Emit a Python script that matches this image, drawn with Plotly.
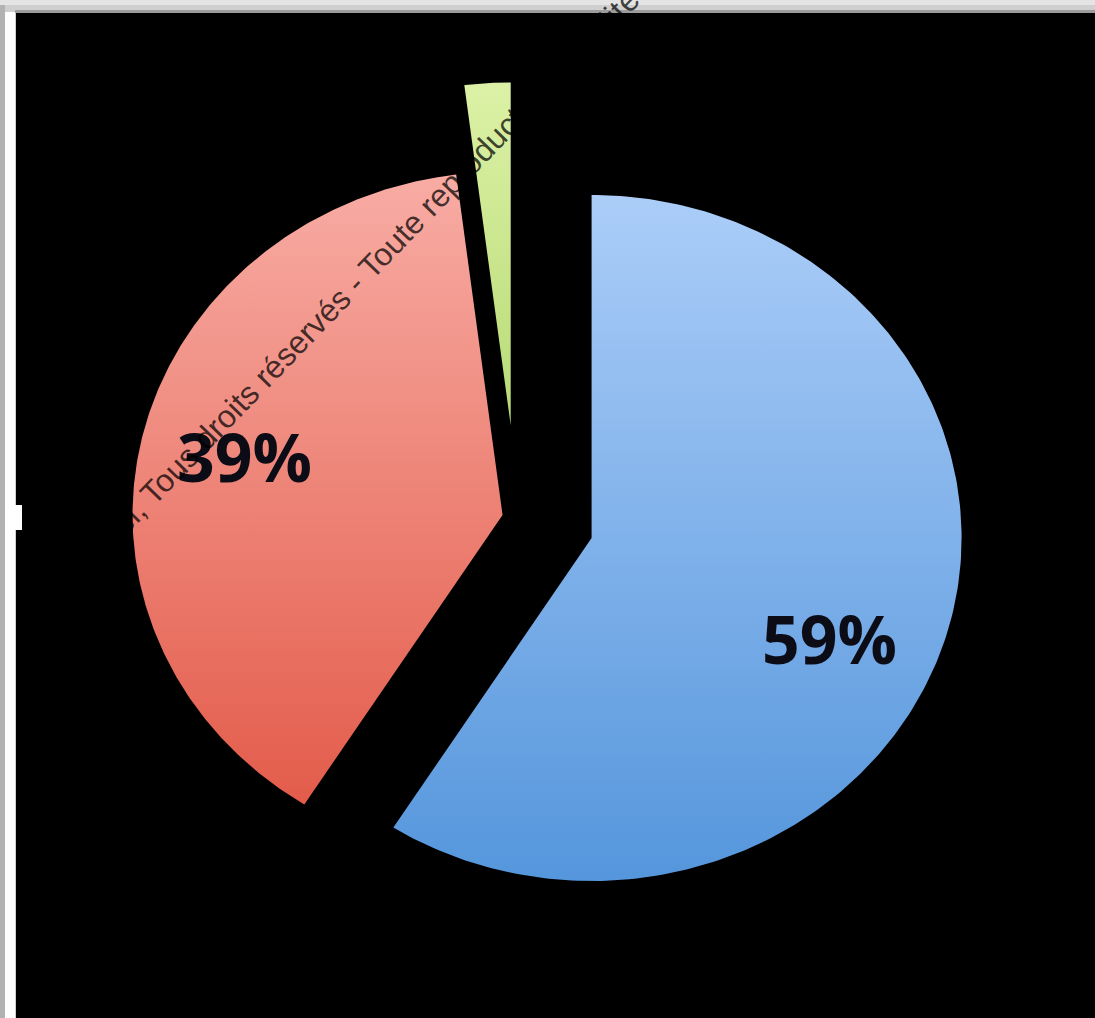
import numpy as np
import plotly.graph_objects as go

# ---- data -------------------------------------------------------------
categories = ["Bleu", "Rouge", "Vert"]
values = [59, 39, 2]
show_label = [True, True, False]

# ---- style ------------------------------------------------------------
pulls = [0.21, 0.04, 0.27]                      # explode distance, in radii
grad_bottom = ["#5596dc", "#e35c4b", "#b7db76"]
grad_top = ["#abcdf8", "#f8aca4", "#dcf1a6"]
label_radius = 0.71
label_nudge = [(-14, -32), (-2, 6), (0, 0)]      # pixel tweaks (xshift, yshift)

W, H = 1095, 1018
ML, MT = 16, 13
PW, PH = W - ML, H - MT

# axis ranges: horizontal unit = 370 px, vertical unit = 343 px
X_RANGE = [-1.354, -1.354 + PW / 370.0]
Y_RANGE = [1.472 - PH / 343.0, 1.472]

fig = go.Figure()

total = float(sum(values))
start = 0.0
label_pos = []
for name, v, p, cb, ct in zip(categories, values, pulls, grad_bottom, grad_top):
    a0 = start
    a1 = start + v / total * 360.0
    start = a1
    mid = np.radians((a0 + a1) / 2.0)
    ox, oy = p * np.sin(mid), p * np.cos(mid)
    th = np.radians(np.linspace(a0, a1, 240))
    xs = np.concatenate([[ox], ox + np.sin(th), [ox]])
    ys = np.concatenate([[oy], oy + np.cos(th), [oy]])
    fig.add_trace(go.Scatter(
        x=xs, y=ys, mode="lines", fill="toself", name=name,
        line=dict(width=0, color=cb),
        fillgradient=dict(type="vertical",
                          colorscale=[[0, cb], [1, ct]]),
        hoverinfo="skip", showlegend=False,
    ))
    label_pos.append((ox + label_radius * np.sin(mid),
                      oy + label_radius * np.cos(mid)))

annotations = []
for v, show, (lx, ly), (dx, dy) in zip(values, show_label, label_pos, label_nudge):
    if not show:
        continue
    annotations.append(dict(
        x=lx, y=ly, xref="x", yref="y", text=f"{v}%", showarrow=False,
        xshift=dx, yshift=dy,
        font=dict(family="Open Sans", size=66, color="#0c0c16", weight="bold"),
    ))

# copyright line running diagonally across the chart
annotations.append(dict(
    x=0.3326, y=0.7526, xref="paper", yref="paper",
    xanchor="center", yanchor="middle",
    text="el, Tous droits réservés - Toute reproduction interdite",
    textangle=-46, showarrow=False,
    font=dict(family="Liberation Sans", size=32, color="rgba(0,0,0,0.72)"),
))


def px(x):
    return (x - ML) / PW


def py(y):
    return 1 - (y - MT) / PH


shapes = [
    # outer frame: grey left edge, white strip, darker line under the top band
    dict(type="rect", xref="paper", yref="paper", x0=px(0), x1=px(5),
         y0=py(H), y1=py(0), fillcolor="#b2b2b2", line=dict(width=0), layer="below"),
    dict(type="rect", xref="paper", yref="paper", x0=px(5), x1=px(15),
         y0=py(H), y1=py(12), fillcolor="#ffffff", line=dict(width=0), layer="below"),
    dict(type="rect", xref="paper", yref="paper", x0=px(15), x1=px(22),
         y0=py(530), y1=py(505), fillcolor="#ffffff", line=dict(width=0), layer="below"),
    dict(type="rect", xref="paper", yref="paper", x0=px(15), x1=px(W),
         y0=py(13), y1=py(10), fillcolor="#9c9c9c", line=dict(width=0), layer="below"),
    dict(type="rect", xref="paper", yref="paper", x0=px(0), x1=px(W),
         y0=py(5), y1=py(0), fillcolor="#e4e4e4", line=dict(width=0), layer="below"),
]

fig.update_layout(
    width=W, height=H, autosize=False,
    margin=dict(l=ML, r=0, t=MT, b=0, pad=0),
    paper_bgcolor="#cfcfcf", plot_bgcolor="#000000",
    xaxis=dict(range=X_RANGE, visible=False, fixedrange=True),
    yaxis=dict(range=Y_RANGE, visible=False, fixedrange=True),
    annotations=annotations, shapes=shapes,
    showlegend=False,
)

fig.write_html("out.html")
